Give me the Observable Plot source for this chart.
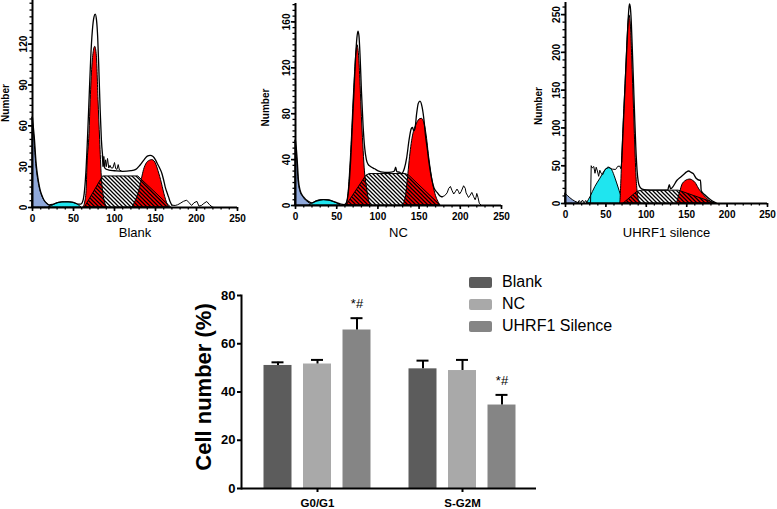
<!DOCTYPE html>
<html>
<head>
<meta charset="utf-8">
<script src="https://cdn.jsdelivr.net/npm/d3@7"></script>
<script src="https://cdn.jsdelivr.net/npm/@observablehq/plot@0.6"></script>
<style>
  body { margin: 0; background: #fff; }
  #wrap { position: relative; width: 777px; height: 509px; overflow: hidden; font-family: "Liberation Sans", Arial, sans-serif; color: #000; }
  .slot { position: absolute; }
  .slot svg { max-width: none; }
  .leg { position: absolute; display: flex; align-items: center; height: 22px; font-size: 16px; }
  .sw { width: 23px; height: 11px; border-radius: 2px; margin-right: 10px; }
</style>
</head>
<body>
<svg width="0" height="0" style="position:absolute">
  <defs>
    <pattern id="hatch" patternUnits="userSpaceOnUse" width="4" height="4">
      <path d="M-1,-1 L5,5 M3,-1 L5,1 M-1,3 L1,5" stroke="#000" stroke-width="1.3"/>
    </pattern>
  </defs>
</svg>
<div id="wrap"></div>
<script>
// ---------- Histogram data: [DNA content, Number] ----------
// Blank
const blankDebris = [[0,66],[1.2,58],[2.4,50],[3.5,40],[4.5,32],[5.8,25],[7.3,19],[9.3,13],[11.4,9],[14,5.5],[17.5,3],[20.5,1.5],[23.6,0.5],[26,0]];
const blankApop = [[20,0],[24,1.2],[28,2.5],[32,3.4],[36,3.8],[40,3.9],[44,3.9],[48,3.6],[52,3],[56,1.8],[60,0]];
const blankG1 = [[62,0],[64,3],[66,12],[67,30],[69.5,54],[71,79],[73,103.5],[75.2,116],[76.5,118],[78.5,111],[80.5,79],[82.5,49.6],[84.5,22.6],[86.5,10],[88.5,3.5],[91,0]];
const blankS = [[64,0],[86,22.8],[129,22.8],[169,0]];
const blankG2 = [[122,0],[126,5],[129,10],[131.3,15],[133.5,21],[136,27.5],[139.5,32.5],[143,34.3],[146,34.8],[149,33.8],[151,31.5],[153.5,27],[155.7,22.5],[157.8,17.7],[159.8,12.5],[161.8,7.8],[164,3.5],[166.5,0]];
const blankFit = [[0,66],[1.2,58],[2.4,50],[3.5,40],[4.5,32],[5.8,25],[7.3,19],[9.3,13],[11.4,9],[14,5.5],[17.5,3],[20.5,2],[24,2.2],[28,3],[32,3.7],[36,4.1],[40,4.2],[44,4.2],[48,3.9],[52,3.3],[56,2.5],[59,2.5],[61,4],[63,10],[65,25],[67,50],[69,80],[71,110],[73,130],[75,140],[76.5,142],[78,138],[79.5,125],[81,100],[82.5,72],[84,50],[85.5,38],[87,31],[89,28.5],[93,27.5],[100,27],[110,26.5],[120,27],[126,28],[131,31],[136,35],[140,37.7],[143.5,38.3],[147,37.5],[150,35],[152,32.5],[155,29],[157.8,25],[160,20],[161.8,15.2],[164,11],[165.9,7.8],[168,4],[170,1.7]];
const blankRaw = [[85,38],[86,30],[87,37.5],[88,30],[89,35],[90,30],[91.5,36],[93,29],[94.5,31],[96,29],[98,29],[100,33],[101.5,28.5],[103,28],[104.5,31.5],[106,27.5],[108,27]];
const blankTail = [[170,1.7],[174,1.5],[177,2],[180,3],[184,4.5],[188,5.4],[191,3.5],[194,1.5],[197,3.5],[200.5,4.5],[203,1],[206,1.5],[209,3],[212.5,4.4],[216,2],[219,0.5],[221,0]];

// NC
const ncDebris = [[0,56.5],[1.2,48],[2.4,36],[3.6,22],[5.7,12.8],[9.7,7],[15.8,2.6],[20,0.5],[22,0]];
const ncApop = [[17,0],[20,1.5],[25,3.5],[30,4.5],[34,4.8],[40,4.5],[45,3.5],[50,2],[55,0]];
const ncG1 = [[60.4,0],[63,3],[66.5,33],[68.5,60],[70.5,91.5],[72,112],[73.3,128],[74.5,137],[75.4,139.6],[76.4,136],[77.4,128],[79,104],[80.6,77],[82.3,53],[83.9,33],[86.7,15.7],[88.5,7],[91,0]];
const ncS = [[62,0],[86,26],[90,27.4],[134,27.4],[138,26],[176,0]];
const ncG2 = [[131,0],[134,8],[137,27.4],[139,42],[141,53.6],[143,62],[145.5,68],[147.5,71.5],[149.5,74],[151.5,75.3],[153.6,75.5],[155.5,73.5],[157.6,68],[159.7,58],[161.7,45],[163.7,34],[165.7,24.5],[167.8,16],[169.8,10],[172.5,4.5],[176,0]];
const ncFit = [[0,56.5],[1.2,48],[2.4,36],[3.6,22],[5.7,13],[9.7,7.5],[15.8,3.5],[20,2.2],[25,3.8],[30,4.8],[34,5.1],[40,4.8],[45,3.8],[50,2.5],[55,1.2],[59,0.8],[61,1.5],[63,6],[65,18],[67,40],[69,70],[71,100],[73,130],[74.5,146],[75.8,152],[77,148],[78.5,128],[80,100],[82,70],[84,50],[86,40],[88,36],[91,34],[96,32],[101,30],[106,29],[111,28.8],[116,29],[120,30],[121.5,33.5],[123,29.5],[126,29],[129,28],[132,32],[135,42],[138,58],[140.5,67],[142,68],[143.5,65],[145,67],[147,80],[149,89],[151,91],[153.6,86],[156,74],[157.6,62],[160,49],[161.7,39],[164,28],[165.7,21.6],[168,15.5],[171.8,11.4],[175,8.5],[177.9,7.6]];
const ncTail = [[177.9,7.6],[181,8.5],[184,11],[186,15],[188,16.6],[190,13],[192,10],[194,12],[196,14.3],[198,12],[199,10],[201,12],[204,17.2],[206,15],[207,11],[208.5,9],[210,7],[212,9],[214,11.4],[216,8],[218,5],[219,7],[220,10.5],[221.5,7],[223,2],[225.7,0]];

// UHRF1 silence
const uhDebris = [[0,13],[3,10],[6,7],[9,4.5],[12,2.5],[15,1],[18,0]];
const uhApop = [[26.5,0],[31,8.7],[37,22],[43.3,33],[49.5,44],[53.6,47.5],[57.8,44],[61.9,33],[66,19.8],[70.1,6.6],[73,0]];
const uhG1 = [[67.5,0],[68,3],[69,26],[70,53],[71.4,92],[72.8,125],[74.3,158],[75.7,192],[77.1,224],[78.2,242],[79.2,249],[80.2,244],[81.3,229],[82.5,195],[83.7,158],[84.8,125],[85.8,92],[86.9,60],[87.9,35],[89.3,15],[90.8,4.4],[93,0]];
const uhS = [[72,0],[89,15.5],[95,17],[140,17],[143,16],[185.6,0]];
const uhG2 = [[138,0],[140.3,8.8],[142.5,17],[144.4,24],[148.5,29.5],[151.5,31.2],[154.7,31.7],[158,30],[160.9,27.3],[165,19.8],[168,15],[171.2,11],[174,7.5],[177.4,4.4],[180.5,1.8],[183.6,0]];
const uhRaw = [[15,0.8],[17,4],[19,1],[21,4.5],[23,0.8],[25,4],[27,0.5],[31,0.8],[31.8,50],[33,47],[35,49],[36.5,40],[38,48],[39.5,43],[41,36],[42.5,44],[44,40],[46,38],[48,43],[50,46],[53.6,47.5],[57.8,45.5],[62,45],[64.8,49.3],[67.3,49.3],[68.5,46],[69.5,55]];
const uhFit = [[69.5,55],[71,90],[72.5,127],[74,162],[75.5,197],[77,232],[78.3,256],[79.2,264],[80.1,261],[81.2,245],[82.5,210],[84,165],[85.5,118],[87,75],[88.5,45],[90,29],[92,22],[95,19],[100,18],[110,17.6],[120,17.6],[126.5,18],[128.5,25],[130,19.5],[132,21],[138,30.8],[143,35.5],[146.5,38.7],[149.5,41.5],[152.6,43],[155,41.5],[158,39.6],[162,33],[166,30.8],[167,31],[168,17],[173,11],[179.5,5],[183,2.5],[187.7,0]];

// ---------- Bar chart data ----------
const phases = ["G0/G1", "S-G2M"];
const groups = ["Blank", "NC", "UHRF1 Silence"];
const g0g1Mean = [51.0, 51.6, 65.7];
const g0g1Err = [1.3, 1.7, 4.9];
const sg2mMean = [49.6, 48.9, 34.6];
const sg2mErr = [3.4, 4.4, 4.2];
const sigLabels = ["", "", "*#"];
const xTickLabels = [0, 50, 100, 150, 200, 250];

const BLUE = "#8fa8da", CYAN = "#1fe5ef", RED = "#ff0000";
const barColors = ["#5c5c5c", "#a9a9a9", "#858585"];
const FONT = "'Liberation Sans', Arial, sans-serif";

const wrap = document.getElementById("wrap");
function place(node, left, topPx) {
  const d = document.createElement("div");
  d.className = "slot";
  d.style.left = left + "px";
  d.style.top = topPx + "px";
  d.appendChild(node);
  wrap.appendChild(d);
}
const X = d => d[0], Y = d => d[1];

function histogram(o) {
  const smooth = "monotone-x";
  const comp = (data, fill, curve = smooth) =>
    Plot.areaY(data, {x: X, y: Y, fill, stroke: "#000", strokeWidth: 1, curve});
  return Plot.plot({
    width: o.width, height: 245,
    marginLeft: o.ml, marginRight: o.mr, marginTop: o.mt, marginBottom: 245 - o.bottom,
    x: {domain: [0, 250], axis: null},
    y: {domain: [0, o.yMax], axis: null},
    style: {background: "transparent", fontFamily: FONT, overflow: "visible"},
    marks: [
      Plot.areaY(o.fit, {x: X, y: Y, fill: "#fff", curve: smooth}),
      comp(o.debris, BLUE),
      comp(o.apop, CYAN),
      comp(o.g1, RED),
      comp(o.g2, RED),
      comp(o.s, "url(#hatch)", "linear"),
      Plot.line(o.fit, {x: X, y: Y, stroke: "#000", strokeWidth: 1.3, curve: smooth}),
      ...o.raws.map(r => Plot.line(r, {x: X, y: Y, stroke: "#000", strokeWidth: 1, curve: "linear"})),
      Plot.ruleX([0], {strokeWidth: 2}),
      Plot.ruleY([0], {strokeWidth: 2}),
      Plot.axisY({ticks: o.yTicks, tickSize: 4, tickPadding: 2, tickRotate: -90, strokeWidth: 1.6, fontSize: 10, fontWeight: "bold", label: null}),
      Plot.axisY({ticks: d3.range(0, o.yMax, o.yMinor), tickSize: 2.5, strokeWidth: 1.3, tickFormat: () => "", label: null}),
      Plot.axisX({ticks: xTickLabels, tickSize: 4, tickPadding: 3, strokeWidth: 1.6, fontSize: 10, fontWeight: "bold", label: null}),
      Plot.axisX({ticks: d3.range(0, 251, 10), tickSize: 2.5, strokeWidth: 1.3, tickFormat: () => "", label: null}),
      Plot.text([o.label], {text: d => d, frameAnchor: "bottom", dy: o.labelDy, fontSize: 13}),
      Plot.text(["Number"], {text: d => d, frameAnchor: "left", textAnchor: "middle", dx: o.numDx, dy: o.numDy, rotate: -90, fontSize: 10, fontWeight: "bold"})
    ]
  });
}

place(histogram({
  width: 250, ml: 32, mr: 13, mt: 0, bottom: 207, yMax: 152,
  yTicks: [0, 30, 60, 90, 120], yMinor: 5,
  debris: blankDebris, apop: blankApop, g1: blankG1, g2: blankG2, s: blankS,
  fit: blankFit, raws: [blankRaw, blankTail], label: "Blank", labelDy: 29, numDx: -27, numDy: -1
}), 0, 0);

place(histogram({
  width: 255, ml: 40, mr: 9, mt: 3, bottom: 205, yMax: 176,
  yTicks: [0, 40, 80, 120, 160], yMinor: 5,
  debris: ncDebris, apop: ncApop, g1: ncG1, g2: ncG2, s: ncS,
  fit: ncFit, raws: [ncTail], label: "NC", labelDy: 31, numDx: -30, numDy: 3
}), 255, 0);

place(histogram({
  width: 267, ml: 55, mr: 10, mt: 2, bottom: 203, yMax: 266,
  yTicks: [0, 50, 100, 150, 200, 250], yMinor: 10,
  debris: uhDebris, apop: uhApop, g1: uhG1, g2: uhG2, s: uhS,
  fit: uhFit, raws: [uhRaw], label: "UHRF1 silence", labelDy: 33, numDx: -27, numDy: 3
}), 510, 0);

// ---------- Bar chart ----------
const rows = groups.flatMap((g, i) => [
  {phase: phases[0], group: g, mean: g0g1Mean[i], err: g0g1Err[i], sig: sigLabels[i]},
  {phase: phases[1], group: g, mean: sg2mMean[i], err: sg2mErr[i], sig: sigLabels[i]}
]);
const offsets = [-39.5, 0, 39.5];
const errTop = d => d.mean + d.err;

const bar = Plot.plot({
  width: 450, height: 269,
  marginLeft: 61, marginRight: 94, marginTop: 55, marginBottom: 21,
  x: {type: "band", domain: phases, paddingInner: 0.807, paddingOuter: 0.42, align: 0.51, axis: null},
  y: {domain: [0, 80], axis: null},
  style: {background: "transparent", fontFamily: FONT, overflow: "visible"},
  marks: [
    ...groups.map((g, i) => Plot.barY(rows.filter(r => r.group === g), {x: "phase", y: "mean", fill: barColors[i], dx: offsets[i]})),
    ...groups.map((g, i) => Plot.ruleX(rows.filter(r => r.group === g), {x: "phase", y1: "mean", y2: errTop, strokeWidth: 2, dx: offsets[i]})),
    ...groups.map((g, i) => Plot.tickY(rows.filter(r => r.group === g), {x: "phase", y: errTop, strokeWidth: 2, dx: offsets[i], insetLeft: 8, insetRight: 8})),
    ...groups.map((g, i) => Plot.text(rows.filter(r => r.group === g && r.sig), {x: "phase", y: errTop, text: "sig", dy: -14, dx: offsets[i], fontSize: 13})),
    Plot.ruleY([0], {strokeWidth: 2}),
    Plot.frame({anchor: "left", strokeWidth: 2}),
    Plot.axisY({ticks: [0, 20, 40, 60, 80], tickSize: 4, tickPadding: 2, strokeWidth: 2, fontSize: 13, fontWeight: "bold", label: null}),
    Plot.axisX({tickSize: 4, tickPadding: 6, strokeWidth: 2, fontSize: 11.5, fontWeight: "bold", label: null}),
    Plot.text(["Cell number (%)"], {text: d => d, frameAnchor: "left", textAnchor: "middle", dx: -38, dy: -5, rotate: -90, fontSize: 22, fontWeight: "bold"})
  ]
});
place(bar, 180, 240);

// Legend
groups.forEach((g, i) => {
  const row = document.createElement("div");
  row.className = "leg";
  row.style.left = "469px";
  row.style.top = (271 + i * 22) + "px";
  const sw = document.createElement("div");
  sw.className = "sw";
  sw.style.background = barColors[i];
  const t = document.createElement("span");
  t.textContent = g;
  row.appendChild(sw);
  row.appendChild(t);
  wrap.appendChild(row);
});
</script>
</body>
</html>
